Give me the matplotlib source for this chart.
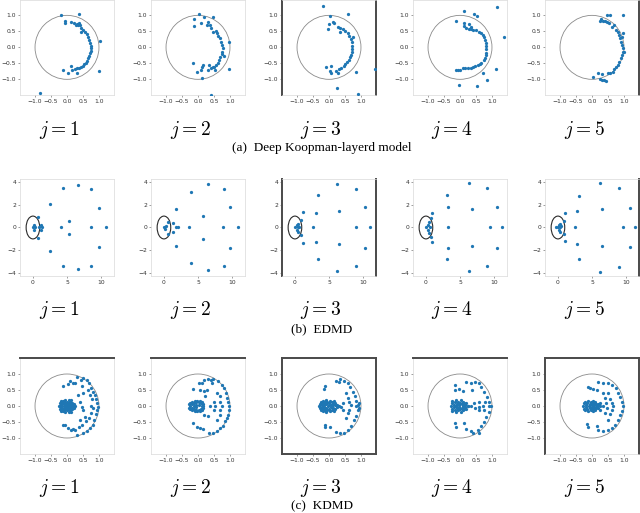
import matplotlib; matplotlib.use("Agg")
import matplotlib.pyplot as plt
from matplotlib.patches import Circle

plt.rcParams.update({"font.family": "DejaVu Sans", "mathtext.fontset": "cm"})
BLUE = "#1f77b4"; LIGHT = "#d9d9d9"; DARKLINE = "#4a4a4a"

dk1 = [(-0.20,1.01),(0.39,1.03),(-0.06,0.83),(-0.06,0.77),(0.12,0.78),(0.22,0.75),(0.30,0.73),(0.33,0.70),
       (0.37,0.75),(0.41,0.70),(0.45,0.59),(0.43,0.47),(0.56,0.47),(0.61,0.41),(0.67,0.31),(0.70,0.23),
       (0.72,0.15),(0.74,0.05),(0.75,-0.03),(0.74,-0.10),(0.73,-0.19),(0.70,-0.27),(0.67,-0.34),(0.64,-0.42),
       (0.59,-0.48),(0.54,-0.53),(0.49,-0.58),(0.44,-0.60),(0.39,-0.64),(0.32,-0.64),(0.26,-0.67),(0.12,-0.58),
       (0.15,-0.70),(0.04,-0.79),(0.30,-0.79),(-0.14,-0.71),(1.03,0.21),(1.01,-0.73),(-0.86,-1.44),(0.49,0.53),
       (0.28,0.70)]
dk2 = [(0.04,1.03),(0.19,0.96),(0.48,0.94),(-0.13,0.89),(-0.13,0.66),(0.08,0.77),(0.32,0.80),(0.36,0.70),
       (0.41,0.59),(0.46,0.47),(0.55,0.52),(0.58,0.44),(0.64,0.35),(0.69,0.28),(0.72,0.18),(0.76,0.07),
       (0.77,-0.03),(0.76,-0.14),(0.74,-0.22),(0.69,-0.31),(0.66,-0.40),(0.61,-0.48),(0.56,-0.55),(0.51,-0.60),
       (0.27,0.70),(0.81,-0.27),(0.96,0.18),(0.96,-0.69),(-0.15,-0.50),(-0.04,-0.78),(0.11,-0.60),(0.17,-0.55),
       (0.09,-0.71),(0.35,-0.55),(0.40,-0.66),(0.48,-0.60),(0.53,-0.71),(0.32,-0.71),(0.14,-0.97),(0.40,-1.49)]
dk3 = [(-0.18,1.30),(0.02,0.99),(0.59,1.04),(-0.01,0.73),(-0.03,0.57),(0.11,0.80),(0.17,0.75),(0.27,0.65),
       (0.35,0.61),(0.34,0.47),(0.43,0.56),(0.51,0.51),(0.58,0.44),(0.64,0.35),(0.69,0.26),(0.71,0.16),
       (0.73,0.05),(0.73,-0.05),(0.72,-0.16),(0.69,-0.24),(0.66,-0.31),(0.61,-0.40),(0.56,-0.47),(0.51,-0.53),
       (0.46,-0.58),(0.39,-0.66),(0.30,-0.69),(0.22,-0.73),(0.06,-0.58),(0.06,-0.79),(0.04,-0.73),(-0.09,-0.63),
       (0.27,-0.81),(0.86,-0.76),(0.24,-1.28),(0.90,-1.47),(1.44,-0.69),(0.76,0.33)]
dk4 = [(0.14,1.15),(0.45,1.05),(0.53,0.97),(1.16,1.25),(1.37,0.32),(-0.11,0.83),(0.12,0.76),(0.12,0.67),
       (0.29,0.74),(0.35,0.65),(0.19,0.60),(0.27,0.57),(0.35,0.57),(0.42,0.55),(0.51,0.53),(0.59,0.49),
       (0.66,0.44),(0.72,0.39),(0.75,0.32),(0.77,0.23),(0.80,0.15),(0.82,0.04),(0.82,-0.06),(0.82,-0.17),
       (0.80,-0.24),(0.77,-0.33),(0.75,-0.40),(0.66,-0.48),(0.61,-0.53),(0.56,-0.54),(0.48,-0.58),(0.40,-0.61),
       (0.35,-0.64),(0.24,-0.64),(0.17,-0.66),(0.08,-0.66),(0.00,-0.72),(-0.07,-0.72),(-0.13,-0.72),(0.72,-0.80),
       (1.14,-0.68),(0.85,-1.01),(-0.02,-1.19),(0.53,-1.22)]
dk5 = [(0.27,0.89),(0.33,0.83),(0.41,0.83),(0.48,0.80),(0.54,0.75),(0.48,1.01),(0.56,1.01),(0.96,1.01),
       (0.25,0.83),(0.61,0.65),(0.69,0.70),(0.75,0.54),(0.80,0.47),(0.85,0.39),(0.88,0.28),(0.91,0.18),
       (0.95,0.07),(0.96,-0.03),(0.96,-0.14),(0.93,-0.24),(0.90,-0.34),(0.85,-0.45),(0.80,-0.55),(0.75,-0.63),
       (0.69,-0.69),(1.00,-0.14),(0.98,0.44),(0.65,-0.76),(0.56,-0.79),(0.51,-0.81),(0.20,-0.81),(0.30,-0.83),
       (0.02,-0.92),(0.30,-1.02),(0.38,-1.02),(0.44,-1.04),(0.25,-0.99),(0.93,0.33)]

edmd1 = [(4.44,3.42),(6.63,3.71),(8.59,3.39),(2.44,2.10),(9.76,1.75),(5.27,0.55),(4.15,0),(8.59,0),(10.68,0),
         (5.27,-0.53),(9.76,-1.75),(2.44,-2.07),(4.44,-3.39),(6.63,-3.68),(8.59,-3.39),(0.15,0.2),(0.15,-0.23),
         (0.24,0),(0.73,0.93),(0.73,-0.96),(0.88,0),(1.12,0.2),(1.37,0.06),(1.22,-0.18),(0,0)]
edmd2 = [(3.97,3.07),(6.47,3.77),(8.82,3.36),(1.76,1.61),(9.75,1.81),(5.74,1.02),(3.73,0),(8.73,0),(10.83,0),
         (5.74,-1.02),(1.76,-1.64),(9.75,-1.81),(3.97,-3.07),(6.47,-3.74),(8.82,-3.33),(1.37,0.41),(1.37,-0.41),
         (1.72,0),(2.11,0),(0.64,0.5),(0.64,-0.53),(0,0),(0.25,0.12),(0.15,-0.12)]
edmd3 = [(3.35,2.83),(6.21,3.85),(8.92,3.36),(1.23,1.37),(1.23,-1.34),(0.89,0.64),(0.89,-0.67),(3.1,1.31),
         (3.1,-1.31),(6.4,1.46),(6.4,-1.46),(2.61,0),(8.92,0),(10.99,0),(10.25,1.81),(10.25,-1.84),(3.35,-2.80),
         (6.21,-3.82),(8.92,-3.36),(0,0),(0.25,0.2),(0.25,-0.23),(0.49,0),(0.39,0.35),(0.39,-0.38),(0.64,0)]
edmd4 = [(3.05,2.83),(6.26,3.91),(8.97,3.42),(0.89,1.28),(0.89,-1.26),(0.74,0.85),(0.74,-0.82),(3.2,1.81),
         (3.2,-1.81),(6.75,1.66),(6.75,-1.64),(3.2,0),(9.36,0),(11.18,0),(10.44,1.81),(10.44,-1.78),(3.05,-2.80),
         (6.26,-3.82),(8.97,-3.39),(0.49,0.44),(0.49,-0.44),(0.25,0.2),(0.25,-0.23),(0,0),(0.64,0)]
edmd5 = [(3.1,2.74),(6.16,3.91),(8.97,3.5),(0.99,1.23),(0.99,-1.20),(0.84,0.58),(0.84,-0.58),(2.86,1.46),
         (2.86,-1.46),(6.5,1.58),(6.5,-1.58),(2.46,0),(9.51,0),(11.33,0),(10.59,1.75),(10.59,-1.75),(3.1,-2.72),
         (6.16,-3.91),(8.97,-3.5),(0,0),(0.15,0.2),(0.15,-0.23),(0.34,0),(-0.25,0),(0.25,0.35),(0.25,-0.38),(0.49,0.12)]

kdmd1 = [(0.32,0.90),(0.51,0.87),(0.64,0.80),(0.43,0.81),(0.09,0.79),(0.04,0.68),(0.18,0.71),(0.25,0.71),
         (0.46,0.61),(0.70,0.71),(0.75,0.56),(0.82,0.45),(0.88,0.35),(0.91,0.21),(0.95,0.09),(0.96,-0.02),
         (0.94,-0.12),(0.91,-0.24),(0.85,-0.43),(0.80,-0.59),(0.72,-0.69),(0.64,-0.77),(0.51,-0.85),(0.32,-0.90),
         (0.67,0.50),(0.72,0.35),(0.77,0.21),(0.74,0.0),(0.80,-0.07),(0.74,-0.22),(0.70,-0.38),(0.59,-0.48),
         (0.46,-0.59),(0.39,-0.66),(0.25,-0.74),(0.11,-0.74),(0.04,-0.69),(-0.06,-0.59),(0.18,-0.72),(0.41,0.14),
         (0.46,-0.02),(0.51,-0.12),(0.35,0.35),(0.51,0.40),(0.56,-0.33),(0.41,-0.43),(-0.11,0.61),(-0.14,-0.59)]
kdmd2 = [(0.04,0.71),(0.11,0.73),(0.19,0.80),(0.32,0.84),(0.41,0.82),(0.48,0.84),(-0.15,0.53),(0.06,0.51),
         (0.19,0.48),(0.27,0.51),(0.43,0.73),(0.64,0.77),(0.74,0.66),(0.81,0.56),(0.88,0.40),(0.92,0.24),
         (0.95,0.14),(0.98,0.0),(0.96,-0.12),(0.93,-0.28),(0.90,-0.38),(0.84,-0.48),(0.77,-0.62),(0.69,-0.69),
         (0.58,-0.77),(0.48,-0.83),(0.69,0.30),(0.69,0.14),(0.74,0.0),(0.69,-0.12),(0.69,-0.28),(0.51,0.14),
         (0.53,0.0),(0.51,-0.12),(0.38,0.0),(0.22,0.30),(0.20,-0.28),(0.32,-0.31),(-0.15,-0.52),(-0.04,-0.66),
         (0.06,-0.69),(0.17,-0.72),(0.35,-0.83),(0.58,0.40),(0.58,-0.43)]
kdmd3 = [(-0.11,0.64),(-0.15,0.52),(0.22,0.78),(0.30,0.76),(0.34,0.83),(0.48,0.79),(0.58,0.73),(0.66,0.60),
         (0.74,0.45),(0.82,0.31),(0.86,0.17),(0.92,0.03),(0.90,-0.13),(0.84,-0.31),(0.79,-0.44),(0.69,-0.63),
         (0.58,-0.75),(0.48,-0.83),(0.34,-0.83),(0.22,-0.80),(0.53,0.40),(0.58,0.24),(0.64,0.14),(0.69,0.03),
         (0.64,-0.13),(0.58,-0.23),(0.53,-0.39),(0.43,0.08),(0.38,-0.02),(0.43,-0.13),(0.30,0.0),(0.84,0.0),
         (0.95,0.08),(0.95,-0.07),(-0.11,-0.59),(-0.11,-0.67),(0.04,-0.65)]
kdmd4 = [(-0.15,0.66),(-0.15,0.50),(-0.02,0.52),(0.08,0.48),(0.19,0.76),(0.34,0.71),(0.48,0.76),(0.58,0.71),
         (0.66,0.60),(0.38,0.50),(0.76,0.45),(0.83,0.29),(0.90,0.14),(0.92,0.0),(0.90,-0.18),(0.81,-0.33),
         (0.76,-0.49),(0.66,-0.63),(0.55,-0.75),(0.42,-0.83),(0.58,0.14),(0.60,-0.02),(0.58,-0.13),(0.71,0.0),
         (0.76,-0.13),(0.79,0.14),(0.97,0.0),(0.45,0.08),(0.48,-0.07),(0.34,0.0),(0.24,0.0),(-0.15,-0.52),
         (-0.13,-0.65),(0.14,-0.54),(0.19,-0.73),(0.34,-0.77),(0.60,-0.85)]
kdmd5 = [(-0.11,0.60),(-0.06,0.55),(0.04,0.52),(0.15,0.50),(0.20,0.74),(0.33,0.73),(0.51,0.73),(0.61,0.66),
         (0.33,0.40),(0.75,0.55),(0.82,0.40),(0.88,0.27),(0.93,0.14),(0.96,0.0),(0.93,-0.15),(0.88,-0.28),
         (0.82,-0.44),(0.72,-0.59),(0.61,-0.70),(0.51,-0.75),(0.51,0.40),(0.56,0.21),(0.61,0.08),(0.67,0.0),
         (0.61,-0.13),(0.56,-0.25),(0.51,-0.44),(0.41,0.24),(0.44,0.08),(0.48,-0.07),(0.41,-0.23),(0.25,0.08),
         (0.25,-0.13),(0.35,0.0),(-0.15,-0.56),(-0.11,-0.67),(0.15,-0.63),(0.20,-0.75),(0.33,-0.77)]

# dense clusters near the origin in the KDMD panels
core1 = [(-0.25,0.0),(-0.22,0.08),(-0.22,-0.08),(-0.2,0.15),(-0.2,-0.15),(-0.15,0.0),(-0.15,0.1),(-0.15,-0.1),
         (-0.12,0.17),(-0.12,-0.17),(-0.1,0.05),(-0.1,-0.05),(-0.08,0.12),(-0.08,-0.12),(-0.05,0.0),(-0.05,0.18),
         (-0.05,-0.18),(-0.03,0.08),(-0.03,-0.08),(0.0,0.14),(0.0,-0.14),(0.0,0.03),(0.0,-0.03),(0.03,0.1),
         (0.03,-0.1),(0.05,0.0),(0.05,0.18),(0.05,-0.18),(0.08,0.06),(0.08,-0.06),(0.1,0.13),(0.1,-0.13),
         (0.12,0.0),(0.15,0.08),(0.15,-0.08),(0.18,0.03),(0.18,-0.03),(0.22,0.05),(0.22,-0.05),(0.26,0.0),
         (-0.18,0.04),(-0.18,-0.04),(0.13,0.2),(0.13,-0.2)]
core2 = [(-0.25,0.0),(-0.24,0.1),(-0.24,-0.1),(-0.2,0.05),(-0.2,-0.05),(-0.18,0.14),(-0.18,-0.14),(-0.14,0.0),
         (-0.13,0.08),(-0.13,-0.08),(-0.1,0.15),(-0.1,-0.15),(-0.07,0.04),(-0.07,-0.04),(-0.05,0.11),(-0.05,-0.11),
         (-0.02,0.16),(-0.02,-0.16),(0.02,0.12),(0.02,-0.12),(0.04,0.02),(0.06,0.16),(0.06,-0.16),(0.08,0.08),
         (0.08,-0.08),(0.11,0.13),(0.11,-0.13),(0.13,0.0),(0.15,0.06),(0.15,-0.06),(0.17,0.0),(-0.28,0.05),(-0.28,-0.05)]
core3 = [(-0.30,0.0),(-0.28,0.07),(-0.28,-0.07),(-0.25,0.13),(-0.25,-0.13),(-0.22,0.02),(-0.2,0.09),(-0.2,-0.09),
         (-0.18,0.16),(-0.18,-0.16),(-0.15,0.03),(-0.15,-0.03),(-0.12,0.11),(-0.12,-0.11),(-0.1,0.18),(-0.1,-0.18),
         (-0.08,0.05),(-0.08,-0.05),(-0.05,0.13),(-0.05,-0.13),(-0.02,0.0),(0.0,0.08),(0.0,-0.08),(0.02,0.17),
         (0.02,-0.17),(0.05,0.03),(0.05,-0.03),(0.08,0.12),(0.08,-0.12),(0.1,0.0),(0.12,0.07),(0.12,-0.07),
         (0.15,0.15),(0.15,-0.15),(0.18,0.02),(0.2,0.09),(0.2,-0.09),(0.24,0.03),(0.24,-0.03),(0.27,0.0),
         (-0.22,-0.02),(0.0,0.02)]
core4 = [(-0.28,0.0),(-0.26,0.1),(-0.26,-0.1),(-0.24,0.17),(-0.24,-0.17),(-0.2,0.04),(-0.2,-0.04),(-0.17,0.12),
         (-0.17,-0.12),(-0.13,0.0),(-0.12,0.18),(-0.12,-0.18),(-0.1,0.07),(-0.1,-0.07),(-0.06,0.14),(-0.06,-0.14),
         (-0.03,0.02),(-0.03,-0.02),(0.0,0.1),(0.0,-0.1),(0.02,0.18),(0.02,-0.18),(0.05,0.05),(0.05,-0.05),
         (0.08,0.14),(0.08,-0.14),(0.1,0.0),(0.13,0.08),(0.13,-0.08),(0.17,0.02),(0.17,-0.02),(0.2,0.1),
         (0.2,-0.1),(0.24,0.0)]
core5 = [(-0.27,0.0),(-0.25,0.08),(-0.25,-0.08),(-0.21,0.14),(-0.21,-0.14),(-0.19,0.03),(-0.19,-0.03),(-0.15,0.1),
         (-0.15,-0.1),(-0.12,0.17),(-0.12,-0.17),(-0.1,0.0),(-0.07,0.06),(-0.07,-0.06),(-0.04,0.13),(-0.04,-0.13),
         (-0.01,0.03),(-0.01,-0.03),(0.02,0.09),(0.02,-0.09),(0.04,0.16),(0.04,-0.16),(0.07,0.02),(0.07,-0.02),
         (0.1,0.11),(0.1,-0.11),(0.13,0.05),(0.13,-0.05),(0.16,0.0),(0.19,0.07),(0.19,-0.07),(0.22,0.02),(0.25,0.0)]

rows = [
    dict(data=[dk1, dk2, dk3, dk4, dk5], top=0, bot=95, caption="(a)  Deep Koopman-layerd model", cap_y=148, j_y=130,
         xlim=(-1.47, 1.47), ylim=(-1.49, 1.48), xt=[-1.0, -0.5, 0.0, 0.5, 1.0], yt=[-1.0, -0.5, 0.0, 0.5, 1.0],
         ring="#8a8a8a", ring_lw=0.6),
    dict(data=[edmd1, edmd2, edmd3, edmd4, edmd5], top=179, bot=276, caption="(b)  EDMD", cap_y=329, j_y=310,
         xlim=(-1.9, 11.9), ylim=(-4.25, 4.25), xt=[0, 5, 10], yt=[-4, -2, 0, 2, 4],
         ring="#2a2a2a", ring_lw=0.8),
    dict(data=[kdmd1 + core1, kdmd2 + core2, kdmd3 + core3, kdmd4 + core4, kdmd5 + core5], top=358, bot=454,
         caption="(c)  KDMD", cap_y=506, j_y=488,
         xlim=(-1.47, 1.47), ylim=(-1.5, 1.5), xt=[-1.0, -0.5, 0.0, 0.5, 1.0], yt=[-1.0, -0.5, 0.0, 0.5, 1.0],
         ring="#8a8a8a", ring_lw=0.6),
]
# dark frame edges left over from the pasted sub-images
dark = {(0, 2): ["left", "right"], (0, 4): ["right"],
        (1, 2): ["left", "right"], (1, 4): ["right"],
        (2, 0): ["top"], (2, 1): ["top"], (2, 2): ["left", "right", "top", "bottom"],
        (2, 3): ["top"], (2, 4): ["left", "right", "top"]}

W, H = 640, 513
lefts = [20, 151, 282, 413, 545]; pw = 94
fig = plt.figure(figsize=(W / 100, H / 100), dpi=100)
fig.patch.set_facecolor("white")

for r, row in enumerate(rows):
    for c in range(5):
        ax = fig.add_axes([lefts[c] / W, 1 - row["bot"] / H, pw / W, (row["bot"] - row["top"]) / H])
        pts = row["data"][c]
        ax.scatter([p[0] for p in pts], [p[1] for p in pts], s=5.5, color=BLUE, linewidths=0, zorder=3)
        ax.add_patch(Circle((0, 0), 1, fill=False, ec=row["ring"], lw=row["ring_lw"], zorder=2))
        ax.set_xlim(row["xlim"]); ax.set_ylim(row["ylim"])
        ax.set_xticks(row["xt"]); ax.set_yticks(row["yt"])
        ax.tick_params(labelsize=4.3, length=1.5, width=0.4, pad=1.2, colors="#555", labelcolor="#333")
        for s, sp in ax.spines.items():
            if s in dark.get((r, c), []):
                sp.set_color(DARKLINE); sp.set_linewidth(1.4)
            else:
                sp.set_color(LIGHT); sp.set_linewidth(0.5)
        fig.text((lefts[c] + pw / 2 - 8) / W, 1 - row["j_y"] / H, rf"$j={c + 1}$",
                 ha="center", va="center", fontsize=14)
    fig.text(322 / W, 1 - row["cap_y"] / H, row["caption"], ha="center", va="center",
             fontsize=9.5, family=["Liberation Serif", "DejaVu Serif"])

fig.savefig("out.png", dpi=100, facecolor="white")
